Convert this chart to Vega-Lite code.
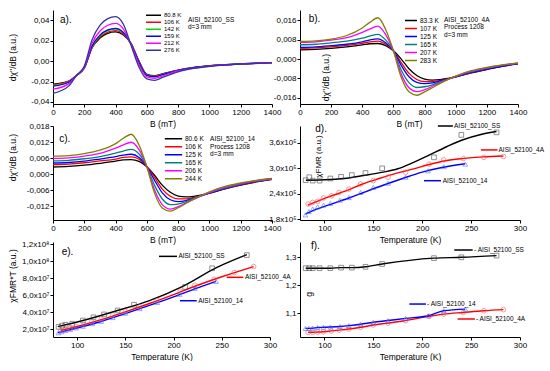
{
"$schema": "https://vega.github.io/schema/vega-lite/v6.json",
"background": "white",
"padding": {"left": 7, "top": 10, "right": 0, "bottom": 0},
"bounds": "flush",
"columns": 2,
"spacing": {"row": 22, "column": 28},
"config": {
  "font": "Liberation Sans",
  "view": {"stroke": null},
  "axis": {"domainColor": "black", "tickColor": "black", "labelColor": "black", "titleColor": "black", "labelFontSize": 8, "titleFontSize": 8.5, "titleFontWeight": "normal", "tickSize": 3, "labelPadding": 1, "grid": false, "labelFlush": false, "labelOverlap": false},
  "axisX": {"titlePadding": 3},
  "legend": {"padding": 0, "rowPadding": 0, "labelColor": "black"},
  "text": {"font": "Liberation Sans", "color": "black"}
},
"resolve": {"scale": {"color": "independent", "stroke": "independent", "shape": "independent"}, "legend": {"color": "independent", "stroke": "independent", "shape": "independent"}},
"datasets": {
"a": [
{"T":"80.8 K","B":0,"v":-0.0225},{"T":"80.8 K","B":100,"v":-0.0195},{"T":"80.8 K","B":150,"v":-0.014},{"T":"80.8 K","B":200,"v":-0.007},{"T":"80.8 K","B":250,"v":0.013},{"T":"80.8 K","B":300,"v":0.0225},{"T":"80.8 K","B":350,"v":0.0272},{"T":"80.8 K","B":400,"v":0.0286},{"T":"80.8 K","B":450,"v":0.0255},{"T":"80.8 K","B":500,"v":0.017},{"T":"80.8 K","B":550,"v":0.0},{"T":"80.8 K","B":600,"v":-0.013},{"T":"80.8 K","B":650,"v":-0.0143},{"T":"80.8 K","B":700,"v":-0.0125},{"T":"80.8 K","B":800,"v":-0.0088},{"T":"80.8 K","B":900,"v":-0.0062},{"T":"80.8 K","B":1000,"v":-0.0045},{"T":"80.8 K","B":1200,"v":-0.0028},{"T":"80.8 K","B":1400,"v":-0.0015},
{"T":"106 K","B":0,"v":-0.0232},{"T":"106 K","B":100,"v":-0.0199},{"T":"106 K","B":150,"v":-0.014},{"T":"106 K","B":200,"v":-0.0068},{"T":"106 K","B":250,"v":0.0137},{"T":"106 K","B":300,"v":0.0235},{"T":"106 K","B":350,"v":0.0283},{"T":"106 K","B":400,"v":0.0298},{"T":"106 K","B":450,"v":0.0263},{"T":"106 K","B":500,"v":0.0168},{"T":"106 K","B":550,"v":-0.0005},{"T":"106 K","B":600,"v":-0.0134},{"T":"106 K","B":650,"v":-0.0147},{"T":"106 K","B":700,"v":-0.0128},{"T":"106 K","B":800,"v":-0.0089},{"T":"106 K","B":900,"v":-0.0063},{"T":"106 K","B":1000,"v":-0.0046},{"T":"106 K","B":1200,"v":-0.0028},{"T":"106 K","B":1400,"v":-0.0015},
{"T":"142 K","B":0,"v":-0.0241},{"T":"142 K","B":100,"v":-0.0204},{"T":"142 K","B":150,"v":-0.014},{"T":"142 K","B":200,"v":-0.0066},{"T":"142 K","B":250,"v":0.0144},{"T":"142 K","B":300,"v":0.0248},{"T":"142 K","B":350,"v":0.0298},{"T":"142 K","B":400,"v":0.0313},{"T":"142 K","B":450,"v":0.0274},{"T":"142 K","B":500,"v":0.0166},{"T":"142 K","B":550,"v":-0.0011},{"T":"142 K","B":600,"v":-0.0138},{"T":"142 K","B":650,"v":-0.0151},{"T":"142 K","B":700,"v":-0.0131},{"T":"142 K","B":800,"v":-0.0091},{"T":"142 K","B":900,"v":-0.0064},{"T":"142 K","B":1000,"v":-0.0046},{"T":"142 K","B":1200,"v":-0.0028},{"T":"142 K","B":1400,"v":-0.0015},
{"T":"159 K","B":0,"v":-0.0246},{"T":"159 K","B":100,"v":-0.0207},{"T":"159 K","B":150,"v":-0.014},{"T":"159 K","B":200,"v":-0.0065},{"T":"159 K","B":250,"v":0.0148},{"T":"159 K","B":300,"v":0.0254},{"T":"159 K","B":350,"v":0.0305},{"T":"159 K","B":400,"v":0.0321},{"T":"159 K","B":450,"v":0.0279},{"T":"159 K","B":500,"v":0.0165},{"T":"159 K","B":550,"v":-0.0014},{"T":"159 K","B":600,"v":-0.014},{"T":"159 K","B":650,"v":-0.0153},{"T":"159 K","B":700,"v":-0.0133},{"T":"159 K","B":800,"v":-0.0092},{"T":"159 K","B":900,"v":-0.0064},{"T":"159 K","B":1000,"v":-0.0047},{"T":"159 K","B":1200,"v":-0.0028},{"T":"159 K","B":1400,"v":-0.0015},
{"T":"212 K","B":0,"v":-0.0275},{"T":"212 K","B":100,"v":-0.0223},{"T":"212 K","B":150,"v":-0.014},{"T":"212 K","B":200,"v":-0.0059},{"T":"212 K","B":250,"v":0.0174},{"T":"212 K","B":300,"v":0.0294},{"T":"212 K","B":350,"v":0.0351},{"T":"212 K","B":400,"v":0.0369},{"T":"212 K","B":450,"v":0.0313},{"T":"212 K","B":500,"v":0.0159},{"T":"212 K","B":550,"v":-0.0033},{"T":"212 K","B":600,"v":-0.0155},{"T":"212 K","B":650,"v":-0.0168},{"T":"212 K","B":700,"v":-0.0144},{"T":"212 K","B":800,"v":-0.0097},{"T":"212 K","B":900,"v":-0.0068},{"T":"212 K","B":1000,"v":-0.0049},{"T":"212 K","B":1200,"v":-0.0029},{"T":"212 K","B":1400,"v":-0.0016},
{"T":"276 K","B":0,"v":-0.0315},{"T":"276 K","B":100,"v":-0.0245},{"T":"276 K","B":150,"v":-0.014},{"T":"276 K","B":200,"v":-0.005},{"T":"276 K","B":250,"v":0.021},{"T":"276 K","B":300,"v":0.035},{"T":"276 K","B":350,"v":0.0415},{"T":"276 K","B":400,"v":0.0436},{"T":"276 K","B":450,"v":0.036},{"T":"276 K","B":500,"v":0.015},{"T":"276 K","B":550,"v":-0.006},{"T":"276 K","B":600,"v":-0.0175},{"T":"276 K","B":650,"v":-0.0188},{"T":"276 K","B":700,"v":-0.016},{"T":"276 K","B":800,"v":-0.0105},{"T":"276 K","B":900,"v":-0.0072},{"T":"276 K","B":1000,"v":-0.0052},{"T":"276 K","B":1200,"v":-0.003},{"T":"276 K","B":1400,"v":-0.0016}
],
"b": [
{"T":"83.3 K","B":0,"v":0.0038},{"T":"83.3 K","B":100,"v":0.004},{"T":"83.3 K","B":200,"v":0.0044},{"T":"83.3 K","B":300,"v":0.005},{"T":"83.3 K","B":400,"v":0.0058},{"T":"83.3 K","B":450,"v":0.0063},{"T":"83.3 K","B":500,"v":0.0064},{"T":"83.3 K","B":550,"v":0.0055},{"T":"83.3 K","B":600,"v":0.0034},{"T":"83.3 K","B":650,"v":0.0},{"T":"83.3 K","B":700,"v":-0.004},{"T":"83.3 K","B":750,"v":-0.0068},{"T":"83.3 K","B":800,"v":-0.0083},{"T":"83.3 K","B":850,"v":-0.0087},{"T":"83.3 K","B":900,"v":-0.0085},{"T":"83.3 K","B":1000,"v":-0.0073},{"T":"83.3 K","B":1100,"v":-0.0057},{"T":"83.3 K","B":1200,"v":-0.0043},{"T":"83.3 K","B":1300,"v":-0.003},{"T":"83.3 K","B":1400,"v":-0.002},
{"T":"107 K","B":0,"v":0.0044},{"T":"107 K","B":100,"v":0.0046},{"T":"107 K","B":200,"v":0.005},{"T":"107 K","B":300,"v":0.0056},{"T":"107 K","B":400,"v":0.0065},{"T":"107 K","B":450,"v":0.0071},{"T":"107 K","B":500,"v":0.0074},{"T":"107 K","B":550,"v":0.0061},{"T":"107 K","B":600,"v":0.0034},{"T":"107 K","B":650,"v":-0.0015},{"T":"107 K","B":700,"v":-0.0059},{"T":"107 K","B":750,"v":-0.0084},{"T":"107 K","B":800,"v":-0.0093},{"T":"107 K","B":850,"v":-0.0093},{"T":"107 K","B":900,"v":-0.0088},{"T":"107 K","B":1000,"v":-0.0073},{"T":"107 K","B":1100,"v":-0.0056},{"T":"107 K","B":1200,"v":-0.0042},{"T":"107 K","B":1300,"v":-0.0029},{"T":"107 K","B":1400,"v":-0.0019},
{"T":"125 K","B":0,"v":0.0048},{"T":"125 K","B":100,"v":0.005},{"T":"125 K","B":200,"v":0.0055},{"T":"125 K","B":300,"v":0.0061},{"T":"125 K","B":400,"v":0.0071},{"T":"125 K","B":450,"v":0.0079},{"T":"125 K","B":500,"v":0.0083},{"T":"125 K","B":550,"v":0.0067},{"T":"125 K","B":600,"v":0.0034},{"T":"125 K","B":650,"v":-0.0026},{"T":"125 K","B":700,"v":-0.0073},{"T":"125 K","B":750,"v":-0.0096},{"T":"125 K","B":800,"v":-0.0101},{"T":"125 K","B":850,"v":-0.0098},{"T":"125 K","B":900,"v":-0.009},{"T":"125 K","B":1000,"v":-0.0073},{"T":"125 K","B":1100,"v":-0.0055},{"T":"125 K","B":1200,"v":-0.0041},{"T":"125 K","B":1300,"v":-0.0029},{"T":"125 K","B":1400,"v":-0.0019},
{"T":"165 K","B":0,"v":0.0059},{"T":"165 K","B":100,"v":0.0061},{"T":"165 K","B":200,"v":0.0067},{"T":"165 K","B":300,"v":0.0074},{"T":"165 K","B":400,"v":0.0086},{"T":"165 K","B":450,"v":0.0095},{"T":"165 K","B":500,"v":0.0102},{"T":"165 K","B":550,"v":0.0079},{"T":"165 K","B":600,"v":0.0034},{"T":"165 K","B":650,"v":-0.0045},{"T":"165 K","B":700,"v":-0.0097},{"T":"165 K","B":750,"v":-0.0117},{"T":"165 K","B":800,"v":-0.0114},{"T":"165 K","B":850,"v":-0.0106},{"T":"165 K","B":900,"v":-0.0094},{"T":"165 K","B":1000,"v":-0.0071},{"T":"165 K","B":1100,"v":-0.0052},{"T":"165 K","B":1200,"v":-0.0038},{"T":"165 K","B":1300,"v":-0.0026},{"T":"165 K","B":1400,"v":-0.0018},
{"T":"207 K","B":0,"v":0.0069},{"T":"207 K","B":100,"v":0.0071},{"T":"207 K","B":200,"v":0.0078},{"T":"207 K","B":300,"v":0.0088},{"T":"207 K","B":400,"v":0.011},{"T":"207 K","B":450,"v":0.0124},{"T":"207 K","B":500,"v":0.0136},{"T":"207 K","B":550,"v":0.0101},{"T":"207 K","B":600,"v":0.0034},{"T":"207 K","B":650,"v":-0.0062},{"T":"207 K","B":700,"v":-0.0118},{"T":"207 K","B":750,"v":-0.0134},{"T":"207 K","B":800,"v":-0.0126},{"T":"207 K","B":850,"v":-0.0112},{"T":"207 K","B":900,"v":-0.0097},{"T":"207 K","B":1000,"v":-0.0071},{"T":"207 K","B":1100,"v":-0.005},{"T":"207 K","B":1200,"v":-0.0036},{"T":"207 K","B":1300,"v":-0.0025},{"T":"207 K","B":1400,"v":-0.0017},
{"T":"283 K","B":0,"v":0.0073},{"T":"283 K","B":100,"v":0.0075},{"T":"283 K","B":200,"v":0.0082},{"T":"283 K","B":300,"v":0.0097},{"T":"283 K","B":400,"v":0.0128},{"T":"283 K","B":450,"v":0.0152},{"T":"283 K","B":500,"v":0.017},{"T":"283 K","B":550,"v":0.0122},{"T":"283 K","B":600,"v":0.0034},{"T":"283 K","B":650,"v":-0.0075},{"T":"283 K","B":700,"v":-0.0135},{"T":"283 K","B":750,"v":-0.0149},{"T":"283 K","B":800,"v":-0.0135},{"T":"283 K","B":850,"v":-0.0118},{"T":"283 K","B":900,"v":-0.01},{"T":"283 K","B":1000,"v":-0.007},{"T":"283 K","B":1100,"v":-0.0048},{"T":"283 K","B":1200,"v":-0.0034},{"T":"283 K","B":1300,"v":-0.0024},{"T":"283 K","B":1400,"v":-0.0016}
],
"c": [
{"T":"80.6 K","B":0,"v":0.0027},{"T":"80.6 K","B":100,"v":0.0029},{"T":"80.6 K","B":200,"v":0.0034},{"T":"80.6 K","B":300,"v":0.0041},{"T":"80.6 K","B":400,"v":0.0049},{"T":"80.6 K","B":450,"v":0.0054},{"T":"80.6 K","B":500,"v":0.0055},{"T":"80.6 K","B":550,"v":0.0048},{"T":"80.6 K","B":600,"v":0.0028},{"T":"80.6 K","B":650,"v":-0.0005},{"T":"80.6 K","B":700,"v":-0.0042},{"T":"80.6 K","B":750,"v":-0.0068},{"T":"80.6 K","B":800,"v":-0.0082},{"T":"80.6 K","B":850,"v":-0.0085},{"T":"80.6 K","B":900,"v":-0.0083},{"T":"80.6 K","B":1000,"v":-0.0071},{"T":"80.6 K","B":1100,"v":-0.0055},{"T":"80.6 K","B":1200,"v":-0.0041},{"T":"80.6 K","B":1300,"v":-0.0029},{"T":"80.6 K","B":1400,"v":-0.0019},
{"T":"106 K","B":0,"v":0.0036},{"T":"106 K","B":100,"v":0.0038},{"T":"106 K","B":200,"v":0.0043},{"T":"106 K","B":300,"v":0.005},{"T":"106 K","B":400,"v":0.0057},{"T":"106 K","B":450,"v":0.0063},{"T":"106 K","B":500,"v":0.0065},{"T":"106 K","B":550,"v":0.0056},{"T":"106 K","B":600,"v":0.0028},{"T":"106 K","B":650,"v":-0.0013},{"T":"106 K","B":700,"v":-0.0057},{"T":"106 K","B":750,"v":-0.0083},{"T":"106 K","B":800,"v":-0.0093},{"T":"106 K","B":850,"v":-0.0093},{"T":"106 K","B":900,"v":-0.0087},{"T":"106 K","B":1000,"v":-0.0071},{"T":"106 K","B":1100,"v":-0.0054},{"T":"106 K","B":1200,"v":-0.004},{"T":"106 K","B":1300,"v":-0.0028},{"T":"106 K","B":1400,"v":-0.0019},
{"T":"125 K","B":0,"v":0.0042},{"T":"125 K","B":100,"v":0.0044},{"T":"125 K","B":200,"v":0.0049},{"T":"125 K","B":300,"v":0.0057},{"T":"125 K","B":400,"v":0.0066},{"T":"125 K","B":450,"v":0.0072},{"T":"125 K","B":500,"v":0.0075},{"T":"125 K","B":550,"v":0.0063},{"T":"125 K","B":600,"v":0.0028},{"T":"125 K","B":650,"v":-0.0024},{"T":"125 K","B":700,"v":-0.0071},{"T":"125 K","B":750,"v":-0.0096},{"T":"125 K","B":800,"v":-0.0103},{"T":"125 K","B":850,"v":-0.0099},{"T":"125 K","B":900,"v":-0.009},{"T":"125 K","B":1000,"v":-0.0071},{"T":"125 K","B":1100,"v":-0.0053},{"T":"125 K","B":1200,"v":-0.0039},{"T":"125 K","B":1300,"v":-0.0027},{"T":"125 K","B":1400,"v":-0.0018},
{"T":"165 K","B":0,"v":0.005},{"T":"165 K","B":100,"v":0.0052},{"T":"165 K","B":200,"v":0.0058},{"T":"165 K","B":300,"v":0.0066},{"T":"165 K","B":400,"v":0.0079},{"T":"165 K","B":450,"v":0.0087},{"T":"165 K","B":500,"v":0.0093},{"T":"165 K","B":550,"v":0.0076},{"T":"165 K","B":600,"v":0.0028},{"T":"165 K","B":650,"v":-0.0043},{"T":"165 K","B":700,"v":-0.0094},{"T":"165 K","B":750,"v":-0.0114},{"T":"165 K","B":800,"v":-0.0112},{"T":"165 K","B":850,"v":-0.0103},{"T":"165 K","B":900,"v":-0.0091},{"T":"165 K","B":1000,"v":-0.0069},{"T":"165 K","B":1100,"v":-0.0051},{"T":"165 K","B":1200,"v":-0.0037},{"T":"165 K","B":1300,"v":-0.0026},{"T":"165 K","B":1400,"v":-0.0018},
{"T":"206 K","B":0,"v":0.0059},{"T":"206 K","B":100,"v":0.0061},{"T":"206 K","B":200,"v":0.0068},{"T":"206 K","B":300,"v":0.0078},{"T":"206 K","B":400,"v":0.0098},{"T":"206 K","B":450,"v":0.011},{"T":"206 K","B":500,"v":0.012},{"T":"206 K","B":550,"v":0.0092},{"T":"206 K","B":600,"v":0.0028},{"T":"206 K","B":650,"v":-0.006},{"T":"206 K","B":700,"v":-0.0115},{"T":"206 K","B":750,"v":-0.0131},{"T":"206 K","B":800,"v":-0.0122},{"T":"206 K","B":850,"v":-0.0108},{"T":"206 K","B":900,"v":-0.0094},{"T":"206 K","B":1000,"v":-0.0068},{"T":"206 K","B":1100,"v":-0.0049},{"T":"206 K","B":1200,"v":-0.0035},{"T":"206 K","B":1300,"v":-0.0024},{"T":"206 K","B":1400,"v":-0.0017},
{"T":"244 K","B":0,"v":0.0068},{"T":"244 K","B":100,"v":0.007},{"T":"244 K","B":200,"v":0.0077},{"T":"244 K","B":300,"v":0.009},{"T":"244 K","B":400,"v":0.0115},{"T":"244 K","B":450,"v":0.0135},{"T":"244 K","B":500,"v":0.015},{"T":"244 K","B":550,"v":0.011},{"T":"244 K","B":600,"v":0.0028},{"T":"244 K","B":650,"v":-0.0072},{"T":"244 K","B":700,"v":-0.0128},{"T":"244 K","B":750,"v":-0.0139},{"T":"244 K","B":800,"v":-0.0126},{"T":"244 K","B":850,"v":-0.011},{"T":"244 K","B":900,"v":-0.0094},{"T":"244 K","B":1000,"v":-0.0066},{"T":"244 K","B":1100,"v":-0.0046},{"T":"244 K","B":1200,"v":-0.0033},{"T":"244 K","B":1300,"v":-0.0023},{"T":"244 K","B":1400,"v":-0.0016}
],
"pts": [
{"s":"SS","T":80.8,"chi":272000,"chiT":22500000,"g":1.26},{"s":"SS","T":84.5,"chi":279000,"chiT":24000000,"g":1.26},{"s":"SS","T":88,"chi":271000,"chiT":25000000,"g":1.26},{"s":"SS","T":95,"chi":271000,"chiT":26200000,"g":1.26},{"s":"SS","T":106,"chi":276000,"chiT":30000000,"g":1.26},{"s":"SS","T":117,"chi":280000,"chiT":33800000,"g":1.262},{"s":"SS","T":128,"chi":284000,"chiT":37200000,"g":1.262},{"s":"SS","T":142,"chi":289000,"chiT":41800000,"g":1.265},{"s":"SS","T":159,"chi":300000,"chiT":48500000,"g":1.275},{"s":"SS","T":212,"chi":326000,"chiT":69500000,"g":1.296},{"s":"SS","T":240,"chi":379000,"chiT":91500000,"g":1.299},{"s":"SS","T":276,"chi":385000,"chiT":107000000,"g":1.305},
{"s":"4A","T":83.3,"chi":215500,"chiT":18500000,"g":1.031},{"s":"4A","T":88,"chi":219600,"chiT":19700000,"g":1.031},{"s":"4A","T":93,"chi":222000,"chiT":21000000,"g":1.032},{"s":"4A","T":99,"chi":230000,"chiT":23000000,"g":1.033},{"s":"4A","T":107,"chi":235000,"chiT":25500000,"g":1.036},{"s":"4A","T":115,"chi":243000,"chiT":28200000,"g":1.039},{"s":"4A","T":125,"chi":251000,"chiT":31600000,"g":1.043},{"s":"4A","T":137,"chi":263000,"chiT":36200000,"g":1.049},{"s":"4A","T":150,"chi":271000,"chiT":40800000,"g":1.057},{"s":"4A","T":165,"chi":279000,"chiT":46200000,"g":1.064},{"s":"4A","T":183,"chi":291000,"chiT":53500000,"g":1.073},{"s":"4A","T":207,"chi":310000,"chiT":64500000,"g":1.088},{"s":"4A","T":222,"chi":320000,"chiT":71500000,"g":1.096},{"s":"4A","T":242,"chi":323000,"chiT":78500000,"g":1.102},{"s":"4A","T":263,"chi":326000,"chiT":86500000,"g":1.108},{"s":"4A","T":283,"chi":328000,"chiT":93500000,"g":1.112},
{"s":"14","T":80.6,"chi":190000,"chiT":15500000,"g":1.045},{"s":"14","T":84,"chi":198000,"chiT":16800000,"g":1.045},{"s":"14","T":88,"chi":204000,"chiT":18200000,"g":1.046},{"s":"14","T":93,"chi":209000,"chiT":19600000,"g":1.048},{"s":"14","T":99,"chi":213000,"chiT":21300000,"g":1.049},{"s":"14","T":106,"chi":217000,"chiT":23200000,"g":1.05},{"s":"14","T":116,"chi":225000,"chiT":26300000,"g":1.052},{"s":"14","T":125,"chi":231000,"chiT":29000000,"g":1.055},{"s":"14","T":137,"chi":243000,"chiT":33500000,"g":1.06},{"s":"14","T":150,"chi":255000,"chiT":38500000,"g":1.067},{"s":"14","T":165,"chi":265000,"chiT":44000000,"g":1.073},{"s":"14","T":183,"chi":279000,"chiT":51200000,"g":1.081},{"s":"14","T":206,"chi":294000,"chiT":60800000,"g":1.09},{"s":"14","T":222,"chi":304000,"chiT":67800000,"g":1.108},{"s":"14","T":244,"chi":310000,"chiT":76000000,"g":1.114}
],
"fd": [
{"s":"SS","T":81,"v":272000},{"s":"SS","T":100,"v":273000},{"s":"SS","T":120,"v":276000},{"s":"SS","T":140,"v":283000},{"s":"SS","T":160,"v":291000},{"s":"SS","T":175,"v":299000},{"s":"SS","T":190,"v":313000},{"s":"SS","T":207,"v":331000},{"s":"SS","T":225,"v":351000},{"s":"SS","T":241,"v":367000},{"s":"SS","T":260,"v":380000},{"s":"SS","T":276,"v":387000},
{"s":"4A","T":83,"v":213000},{"s":"4A","T":105,"v":233000},{"s":"4A","T":122,"v":247000},{"s":"4A","T":139,"v":263000},{"s":"4A","T":156,"v":276000},{"s":"4A","T":173,"v":288000},{"s":"4A","T":190,"v":298000},{"s":"4A","T":207,"v":309000},{"s":"4A","T":224,"v":318000},{"s":"4A","T":241,"v":323000},{"s":"4A","T":262,"v":327000},{"s":"4A","T":283,"v":329000},
{"s":"14","T":80.6,"v":192000},{"s":"14","T":90,"v":202000},{"s":"14","T":100,"v":210000},{"s":"14","T":110,"v":218000},{"s":"14","T":125,"v":230000},{"s":"14","T":140,"v":243000},{"s":"14","T":160,"v":260000},{"s":"14","T":180,"v":276000},{"s":"14","T":200,"v":291000},{"s":"14","T":220,"v":302000},{"s":"14","T":244,"v":311000}
],
"fe": [
{"s":"SS","T":80,"v":22800000},{"s":"SS","T":106,"v":30000000},{"s":"SS","T":141,"v":41500000},{"s":"SS","T":175,"v":53500000},{"s":"SS","T":209,"v":70000000},{"s":"SS","T":245,"v":92500000},{"s":"SS","T":276,"v":107500000},
{"s":"4A","T":83,"v":18500000},{"s":"4A","T":100,"v":23000000},{"s":"4A","T":125,"v":31000000},{"s":"4A","T":150,"v":40200000},{"s":"4A","T":175,"v":50000000},{"s":"4A","T":200,"v":60500000},{"s":"4A","T":225,"v":71500000},{"s":"4A","T":250,"v":81500000},{"s":"4A","T":283,"v":93500000},
{"s":"14","T":80,"v":15500000},{"s":"14","T":100,"v":21200000},{"s":"14","T":125,"v":28800000},{"s":"14","T":150,"v":38200000},{"s":"14","T":175,"v":47800000},{"s":"14","T":200,"v":57800000},{"s":"14","T":225,"v":68500000},{"s":"14","T":244,"v":76000000}
]
},
"concat": [
{
 "width": 219, "height": 94,
 "layer": [
  {"data": {"name": "a"}, "mark": {"type": "line", "strokeWidth": 1.3, "interpolate": "monotone"},
   "encoding": {
    "x": {"field": "B", "type": "quantitative", "scale": {"domain": [0, 1400], "nice": false}, "axis": {"values": [0,200,400,600,800,1000,1200,1400], "format": "d", "title": "B (mT)", "labelOverlap": false}},
    "y": {"field": "v", "type": "quantitative", "scale": {"domain": [-0.042, 0.05], "nice": false, "zero": false}, "axis": {"values": [-0.04,-0.02,0,0.02,0.04], "labelOverlap": false, "labelExpr": "replace(replace(format(datum.value, '.2f'), '.', ','), '\u2212', '-')", "title": "d\u03c7''/dB (a.u.)", "titleX": -41, "titleBaseline": "middle"}},
    "color": {"field": "T", "type": "nominal", "scale": {"domain": ["80.8 K","106 K","142 K","159 K","212 K","276 K"], "range": ["#000000","#ff0000","#00e000","#0000ff","#ff00ff","#33339a"]}, "legend": {"orient": "none", "legendX": 92, "legendY": 2.6, "title": null, "symbolType": "stroke", "symbolSize": 225, "symbolStrokeWidth": 1.5, "labelFontSize": 6, "clipHeight": 5.4, "labelOffset": 2}}
   }},
  {"data": {"values": [{}]}, "mark": {"type": "text", "align": "left", "baseline": "middle", "fontSize": 10}, "encoding": {"x": {"datum": 45, "axis": {"values": [0,200,400,600,800,1000,1200,1400], "labelOverlap": false}}, "y": {"datum": 0.0403, "axis": {"values": [-0.04,-0.02,0,0.02,0.04], "labelOverlap": false}}, "text": {"value": "a)."}}},
  {"data": {"values": [{}]}, "mark": {"type": "text", "align": "left", "baseline": "middle", "fontSize": 6.5}, "encoding": {"x": {"datum": 863, "axis": {"values": [0,200,400,600,800,1000,1200,1400], "labelOverlap": false}}, "y": {"datum": 0.0403, "axis": {"values": [-0.04,-0.02,0,0.02,0.04], "labelOverlap": false}}, "text": {"value": "AISI_52100_SS"}}},
  {"data": {"values": [{}]}, "mark": {"type": "text", "align": "left", "baseline": "middle", "fontSize": 6.5}, "encoding": {"x": {"datum": 863, "axis": {"values": [0,200,400,600,800,1000,1200,1400], "labelOverlap": false}}, "y": {"datum": 0.0329, "axis": {"values": [-0.04,-0.02,0,0.02,0.04], "labelOverlap": false}}, "text": {"value": "d=3 mm"}}}
 ]
},
{
 "width": 218, "height": 94,
 "layer": [
  {"data": {"name": "b"}, "mark": {"type": "line", "strokeWidth": 1.3, "interpolate": "monotone"},
   "encoding": {
    "x": {"field": "B", "type": "quantitative", "scale": {"domain": [0, 1400], "nice": false}, "axis": {"values": [0,200,400,600,800,1000,1200,1400], "format": "d", "title": "B (mT)", "labelOverlap": false}},
    "y": {"field": "v", "type": "quantitative", "scale": {"domain": [-0.0185, 0.0202], "nice": false, "zero": false}, "axis": {"values": [-0.016,-0.008,0,0.008,0.016], "labelOverlap": false, "labelExpr": "replace(replace(format(datum.value, '.3f'), '.', ','), '\u2212', '-')", "title": "d\u03c7''/dB (a.u.)", "titleX": 25, "titleY": 67, "titleBaseline": "middle"}},
    "color": {"field": "T", "type": "nominal", "scale": {"domain": ["83.3 K","107 K","125 K","165 K","207 K","283 K"], "range": ["#000000","#ff0000","#0000ff","#008080","#ff00ff","#808000"]}, "legend": {"orient": "none", "legendX": 104, "legendY": 7, "title": null, "symbolType": "stroke", "symbolSize": 144, "symbolStrokeWidth": 1.5, "labelFontSize": 6.5, "clipHeight": 7.2, "labelOffset": 2}}
   }},
  {"data": {"values": [{}]}, "mark": {"type": "text", "align": "left", "baseline": "middle", "fontSize": 10}, "encoding": {"x": {"datum": 56, "axis": {"values": [0,200,400,600,800,1000,1200,1400], "labelOverlap": false}}, "y": {"datum": 0.0164, "axis": {"values": [-0.016,-0.008,0,0.008,0.016], "labelOverlap": false}}, "text": {"value": "b)."}}},
  {"data": {"values": [{}]}, "mark": {"type": "text", "align": "left", "baseline": "middle", "fontSize": 6.5}, "encoding": {"x": {"datum": 925, "axis": {"values": [0,200,400,600,800,1000,1200,1400], "labelOverlap": false}}, "y": {"datum": 0.0161, "axis": {"values": [-0.016,-0.008,0,0.008,0.016], "labelOverlap": false}}, "text": {"value": "AISI_52100_4A"}}},
  {"data": {"values": [{}]}, "mark": {"type": "text", "align": "left", "baseline": "middle", "fontSize": 6.5}, "encoding": {"x": {"datum": 925, "axis": {"values": [0,200,400,600,800,1000,1200,1400], "labelOverlap": false}}, "y": {"datum": 0.013, "axis": {"values": [-0.016,-0.008,0,0.008,0.016], "labelOverlap": false}}, "text": {"value": "Process 1208"}}},
  {"data": {"values": [{}]}, "mark": {"type": "text", "align": "left", "baseline": "middle", "fontSize": 6.5}, "encoding": {"x": {"datum": 925, "axis": {"values": [0,200,400,600,800,1000,1200,1400], "labelOverlap": false}}, "y": {"datum": 0.0098, "axis": {"values": [-0.016,-0.008,0,0.008,0.016], "labelOverlap": false}}, "text": {"value": "d=3 mm"}}}
 ]
},
{
 "width": 219, "height": 94,
 "layer": [
  {"data": {"name": "c"}, "mark": {"type": "line", "strokeWidth": 1.3, "interpolate": "monotone"},
   "encoding": {
    "x": {"field": "B", "type": "quantitative", "scale": {"domain": [0, 1400], "nice": false}, "axis": {"values": [0,200,400,600,800,1000,1200,1400], "format": "d", "title": "B (mT)", "labelOverlap": false}},
    "y": {"field": "v", "type": "quantitative", "scale": {"domain": [-0.0172, 0.0181], "nice": false, "zero": false}, "axis": {"values": [-0.012,-0.006,0,0.006,0.012,0.018], "labelOverlap": false, "labelExpr": "replace(replace(format(datum.value, '.3f'), '.', ','), '\u2212', '-')", "title": "d\u03c7''/dB (a.u.)", "titleX": -41, "titleY": 31, "titleBaseline": "middle"}},
    "color": {"field": "T", "type": "nominal", "scale": {"domain": ["80.6 K","106 K","125 K","165 K","206 K","244 K"], "range": ["#000000","#ff0000","#0000ff","#008080","#ff00ff","#808000"]}, "legend": {"orient": "none", "legendX": 111, "legendY": 9, "title": null, "symbolType": "stroke", "symbolSize": 300, "symbolStrokeWidth": 1.5, "labelFontSize": 6.5, "clipHeight": 7.7, "labelOffset": 2}}
   }},
  {"data": {"values": [{}]}, "mark": {"type": "text", "align": "left", "baseline": "middle", "fontSize": 10}, "encoding": {"x": {"datum": 40, "axis": {"values": [0,200,400,600,800,1000,1200,1400], "labelOverlap": false}}, "y": {"datum": 0.0134, "axis": {"values": [-0.012,-0.006,0,0.006,0.012,0.018], "labelOverlap": false}}, "text": {"value": "c)."}}},
  {"data": {"values": [{}]}, "mark": {"type": "text", "align": "left", "baseline": "middle", "fontSize": 6.5}, "encoding": {"x": {"datum": 1004, "axis": {"values": [0,200,400,600,800,1000,1200,1400], "labelOverlap": false}}, "y": {"datum": 0.0131, "axis": {"values": [-0.012,-0.006,0,0.006,0.012,0.018], "labelOverlap": false}}, "text": {"value": "AISI_52100_14"}}},
  {"data": {"values": [{}]}, "mark": {"type": "text", "align": "left", "baseline": "middle", "fontSize": 6.5}, "encoding": {"x": {"datum": 1004, "axis": {"values": [0,200,400,600,800,1000,1200,1400], "labelOverlap": false}}, "y": {"datum": 0.0102, "axis": {"values": [-0.012,-0.006,0,0.006,0.012,0.018], "labelOverlap": false}}, "text": {"value": "Process 1208"}}},
  {"data": {"values": [{}]}, "mark": {"type": "text", "align": "left", "baseline": "middle", "fontSize": 6.5}, "encoding": {"x": {"datum": 1004, "axis": {"values": [0,200,400,600,800,1000,1200,1400], "labelOverlap": false}}, "y": {"datum": 0.0074, "axis": {"values": [-0.012,-0.006,0,0.006,0.012,0.018], "labelOverlap": false}}, "text": {"value": "d=3 mm"}}}
 ]
},
{
 "width": 220, "height": 94,
 "layer": [
  {"data": {"name": "fd"}, "mark": {"type": "line", "strokeWidth": 1.4, "interpolate": "monotone"},
   "encoding": {
    "x": {"field": "T", "type": "quantitative", "scale": {"domain": [75, 300], "nice": false, "zero": false}, "axis": {"values": [100,150,200,250,300], "format": "d", "title": "Temperature (K)", "labelOverlap": false}},
    "y": {"field": "v", "type": "quantitative", "scale": {"domain": [178000, 400000], "nice": false, "zero": false}, "axis": {"values": [180000,240000,300000,360000], "labelOverlap": false, "labelExpr": "replace(format(datum.value / 100000, '.1f'), '.', ',') + 'x10\u2075'", "title": "\u03c7FMR (a.u.)", "titleFontSize": 8, "titleX": 18, "titleY": 30, "titleBaseline": "middle"}},
    "color": {"field": "s", "type": "nominal", "scale": {"domain": ["SS","4A","14"], "range": ["#000000","#ff0000","#0000ff"]}, "legend": null}
   }},
  {"data": {"name": "pts"}, "mark": {"type": "point", "filled": false, "size": 22, "strokeWidth": 0.8},
   "encoding": {
    "x": {"field": "T", "type": "quantitative", "axis": {"values": [100,150,200,250,300], "labelOverlap": false}},
    "y": {"field": "chi", "type": "quantitative", "axis": {"values": [180000,240000,300000,360000], "labelOverlap": false}},
    "stroke": {"field": "s", "type": "nominal", "scale": {"domain": ["SS","4A","14"], "range": ["#3c3c3c","#ff4d4d","#4466ff"]}, "legend": null},
    "shape": {"field": "s", "type": "nominal", "scale": {"domain": ["SS","4A","14"], "range": ["square","circle","triangle-up"]}, "legend": null}
   }},
  {"data": {"values": [{}]}, "mark": {"type": "text", "align": "left", "baseline": "middle", "fontSize": 10}, "encoding": {"x": {"datum": 90.6, "axis": {"values": [100,150,200,250,300], "labelOverlap": false}}, "y": {"datum": 393000, "axis": {"values": [180000,240000,300000,360000], "labelOverlap": false}}, "text": {"value": "d)."}}},
  {"data": {"values": [{}]}, "mark": {"type": "rule", "color": "#000000", "strokeWidth": 1.5}, "encoding": {"x": {"datum": 216, "axis": {"values": [100,150,200,250,300], "labelOverlap": false}}, "x2": {"datum": 231.4}, "y": {"datum": 400000, "axis": {"values": [180000,240000,300000,360000], "labelOverlap": false}}}},
  {"data": {"values": [{}]}, "mark": {"type": "text", "align": "left", "baseline": "middle", "fontSize": 6.5}, "encoding": {"x": {"datum": 232.5, "axis": {"values": [100,150,200,250,300], "labelOverlap": false}}, "y": {"datum": 400000, "axis": {"values": [180000,240000,300000,360000], "labelOverlap": false}}, "text": {"value": "AISI_52100_SS"}}},
  {"data": {"values": [{}]}, "mark": {"type": "rule", "color": "#ff0000", "strokeWidth": 1.5}, "encoding": {"x": {"datum": 260, "axis": {"values": [100,150,200,250,300], "labelOverlap": false}}, "x2": {"datum": 277}, "y": {"datum": 343500, "axis": {"values": [180000,240000,300000,360000], "labelOverlap": false}}}},
  {"data": {"values": [{}]}, "mark": {"type": "text", "align": "left", "baseline": "middle", "fontSize": 6.5}, "encoding": {"x": {"datum": 278, "axis": {"values": [100,150,200,250,300], "labelOverlap": false}}, "y": {"datum": 343500, "axis": {"values": [180000,240000,300000,360000], "labelOverlap": false}}, "text": {"value": "AISI_52100_4A"}}},
  {"data": {"values": [{}]}, "mark": {"type": "rule", "color": "#0000ff", "strokeWidth": 1.5}, "encoding": {"x": {"datum": 201.8, "axis": {"values": [100,150,200,250,300], "labelOverlap": false}}, "x2": {"datum": 219.2}, "y": {"datum": 270800, "axis": {"values": [180000,240000,300000,360000], "labelOverlap": false}}}},
  {"data": {"values": [{}]}, "mark": {"type": "text", "align": "left", "baseline": "middle", "fontSize": 6.5}, "encoding": {"x": {"datum": 220.9, "axis": {"values": [100,150,200,250,300], "labelOverlap": false}}, "y": {"datum": 270800, "axis": {"values": [180000,240000,300000,360000], "labelOverlap": false}}, "text": {"value": "AISI_52100_14"}}}
 ]
},
{
 "width": 217, "height": 95,
 "layer": [
  {"data": {"name": "fe"}, "mark": {"type": "line", "strokeWidth": 1.4, "interpolate": "monotone"},
   "encoding": {
    "x": {"field": "T", "type": "quantitative", "scale": {"domain": [75, 300], "nice": false, "zero": false}, "axis": {"values": [100,150,200,250,300], "format": "d", "title": "Temperature (K)", "labelOverlap": false}},
    "y": {"field": "v", "type": "quantitative", "scale": {"domain": [10600000, 122400000], "nice": false, "zero": false}, "axis": {"values": [20000000,40000000,60000000,80000000,100000000,120000000], "labelOverlap": false, "labelExpr": "datum.value >= 100000000 ? replace(format(datum.value / 100000000, '.1f'), '.', ',') + 'x10\u2078' : replace(format(datum.value / 10000000, '.1f'), '.', ',') + 'x10\u2077'", "title": "\u03c7FMR*T (a.u.)", "titleX": -41, "titleY": 33.5, "titleBaseline": "middle"}},
    "color": {"field": "s", "type": "nominal", "scale": {"domain": ["SS","4A","14"], "range": ["#000000","#ff0000","#0000ff"]}, "legend": null}
   }},
  {"data": {"name": "pts"}, "mark": {"type": "point", "filled": false, "size": 22, "strokeWidth": 0.8},
   "encoding": {
    "x": {"field": "T", "type": "quantitative", "axis": {"values": [100,150,200,250,300], "labelOverlap": false}},
    "y": {"field": "chiT", "type": "quantitative", "axis": {"values": [20000000,40000000,60000000,80000000,100000000,120000000], "labelOverlap": false}},
    "stroke": {"field": "s", "type": "nominal", "scale": {"domain": ["SS","4A","14"], "range": ["#3c3c3c","#ff4d4d","#4466ff"]}, "legend": null},
    "shape": {"field": "s", "type": "nominal", "scale": {"domain": ["SS","4A","14"], "range": ["square","circle","triangle-up"]}, "legend": null}
   }},
  {"data": {"values": [{}]}, "mark": {"type": "text", "align": "left", "baseline": "middle", "fontSize": 10}, "encoding": {"x": {"datum": 84, "axis": {"values": [100,150,200,250,300], "labelOverlap": false}}, "y": {"datum": 111000000, "axis": {"values": [20000000,40000000,60000000,80000000,100000000,120000000], "labelOverlap": false}}, "text": {"value": "e)."}}},
  {"data": {"values": [{}]}, "mark": {"type": "rule", "color": "#000000", "strokeWidth": 1.5}, "encoding": {"x": {"datum": 184.9, "axis": {"values": [100,150,200,250,300], "labelOverlap": false}}, "x2": {"datum": 203.6}, "y": {"datum": 105500000, "axis": {"values": [20000000,40000000,60000000,80000000,100000000,120000000], "labelOverlap": false}}}},
  {"data": {"values": [{}]}, "mark": {"type": "text", "align": "left", "baseline": "middle", "fontSize": 6.5}, "encoding": {"x": {"datum": 205, "axis": {"values": [100,150,200,250,300], "labelOverlap": false}}, "y": {"datum": 105500000, "axis": {"values": [20000000,40000000,60000000,80000000,100000000,120000000], "labelOverlap": false}}, "text": {"value": "AISI_52100_SS"}}},
  {"data": {"values": [{}]}, "mark": {"type": "rule", "color": "#ff0000", "strokeWidth": 1.5}, "encoding": {"x": {"datum": 255.1, "axis": {"values": [100,150,200,250,300], "labelOverlap": false}}, "x2": {"datum": 272.3}, "y": {"datum": 80800000, "axis": {"values": [20000000,40000000,60000000,80000000,100000000,120000000], "labelOverlap": false}}}},
  {"data": {"values": [{}]}, "mark": {"type": "text", "align": "left", "baseline": "middle", "fontSize": 6.5}, "encoding": {"x": {"datum": 274, "axis": {"values": [100,150,200,250,300], "labelOverlap": false}}, "y": {"datum": 80800000, "axis": {"values": [20000000,40000000,60000000,80000000,100000000,120000000], "labelOverlap": false}}, "text": {"value": "AISI_52100_4A"}}},
  {"data": {"values": [{}]}, "mark": {"type": "rule", "color": "#0000ff", "strokeWidth": 1.5}, "encoding": {"x": {"datum": 206.7, "axis": {"values": [100,150,200,250,300], "labelOverlap": false}}, "x2": {"datum": 224}, "y": {"datum": 53300000, "axis": {"values": [20000000,40000000,60000000,80000000,100000000,120000000], "labelOverlap": false}}}},
  {"data": {"values": [{}]}, "mark": {"type": "text", "align": "left", "baseline": "middle", "fontSize": 6.5}, "encoding": {"x": {"datum": 225.5, "axis": {"values": [100,150,200,250,300], "labelOverlap": false}}, "y": {"datum": 53300000, "axis": {"values": [20000000,40000000,60000000,80000000,100000000,120000000], "labelOverlap": false}}, "text": {"value": "AISI_52100_14"}}}
 ]
},
{
 "width": 220, "height": 95,
 "layer": [
  {"data": {"name": "pts"}, "mark": {"type": "line", "strokeWidth": 1.4, "interpolate": "monotone"},
   "encoding": {
    "x": {"field": "T", "type": "quantitative", "scale": {"domain": [75, 300], "nice": false, "zero": false}, "axis": {"values": [100,150,200,250,300], "format": "d", "title": "Temperature (K)", "labelOverlap": false}},
    "y": {"field": "g", "type": "quantitative", "scale": {"domain": [1.0143, 1.3536], "nice": false, "zero": false}, "axis": {"values": [1.1,1.2,1.3], "labelOverlap": false, "labelExpr": "replace(format(datum.value, '.1f'), '.', ',')", "title": "g", "titleX": 8, "titleY": 52, "titleBaseline": "middle"}},
    "color": {"field": "s", "type": "nominal", "scale": {"domain": ["SS","4A","14"], "range": ["#000000","#ff0000","#0000ff"]}, "legend": null}
   }},
  {"data": {"name": "pts"}, "mark": {"type": "point", "filled": false, "size": 22, "strokeWidth": 0.8},
   "encoding": {
    "x": {"field": "T", "type": "quantitative", "axis": {"values": [100,150,200,250,300], "labelOverlap": false}},
    "y": {"field": "g", "type": "quantitative", "axis": {"values": [1.1,1.2,1.3], "labelOverlap": false}},
    "stroke": {"field": "s", "type": "nominal", "scale": {"domain": ["SS","4A","14"], "range": ["#3c3c3c","#ff4d4d","#4466ff"]}, "legend": null},
    "shape": {"field": "s", "type": "nominal", "scale": {"domain": ["SS","4A","14"], "range": ["square","circle","triangle-up"]}, "legend": null}
   }},
  {"data": {"values": [{}]}, "mark": {"type": "text", "align": "left", "baseline": "middle", "fontSize": 10}, "encoding": {"x": {"datum": 86.2, "axis": {"values": [100,150,200,250,300], "labelOverlap": false}}, "y": {"datum": 1.34, "axis": {"values": [1.1,1.2,1.3], "labelOverlap": false}}, "text": {"value": "f)."}}},
  {"data": {"values": [{}]}, "mark": {"type": "rule", "color": "#000000", "strokeWidth": 1.5}, "encoding": {"x": {"datum": 232.8, "axis": {"values": [100,150,200,250,300], "labelOverlap": false}}, "x2": {"datum": 251.6}, "y": {"datum": 1.325, "axis": {"values": [1.1,1.2,1.3], "labelOverlap": false}}}},
  {"data": {"values": [{}]}, "mark": {"type": "text", "align": "left", "baseline": "middle", "fontSize": 6.5}, "encoding": {"x": {"datum": 253, "axis": {"values": [100,150,200,250,300], "labelOverlap": false}}, "y": {"datum": 1.325, "axis": {"values": [1.1,1.2,1.3], "labelOverlap": false}}, "text": {"value": "- AISI_52100_SS"}}},
  {"data": {"values": [{}]}, "mark": {"type": "rule", "color": "#0000ff", "strokeWidth": 1.5}, "encoding": {"x": {"datum": 186.8, "axis": {"values": [100,150,200,250,300], "labelOverlap": false}}, "x2": {"datum": 203.8}, "y": {"datum": 1.132, "axis": {"values": [1.1,1.2,1.3], "labelOverlap": false}}}},
  {"data": {"values": [{}]}, "mark": {"type": "text", "align": "left", "baseline": "middle", "fontSize": 6.5}, "encoding": {"x": {"datum": 205, "axis": {"values": [100,150,200,250,300], "labelOverlap": false}}, "y": {"datum": 1.132, "axis": {"values": [1.1,1.2,1.3], "labelOverlap": false}}, "text": {"value": "- AISI_52100_14"}}},
  {"data": {"values": [{}]}, "mark": {"type": "rule", "color": "#ff0000", "strokeWidth": 1.5}, "encoding": {"x": {"datum": 236.2, "axis": {"values": [100,150,200,250,300], "labelOverlap": false}}, "x2": {"datum": 253.9}, "y": {"datum": 1.0786, "axis": {"values": [1.1,1.2,1.3], "labelOverlap": false}}}},
  {"data": {"values": [{}]}, "mark": {"type": "text", "align": "left", "baseline": "middle", "fontSize": 6.5}, "encoding": {"x": {"datum": 255, "axis": {"values": [100,150,200,250,300], "labelOverlap": false}}, "y": {"datum": 1.0786, "axis": {"values": [1.1,1.2,1.3], "labelOverlap": false}}, "text": {"value": "- AISI_52100_4A"}}}
 ]
}
]
}
